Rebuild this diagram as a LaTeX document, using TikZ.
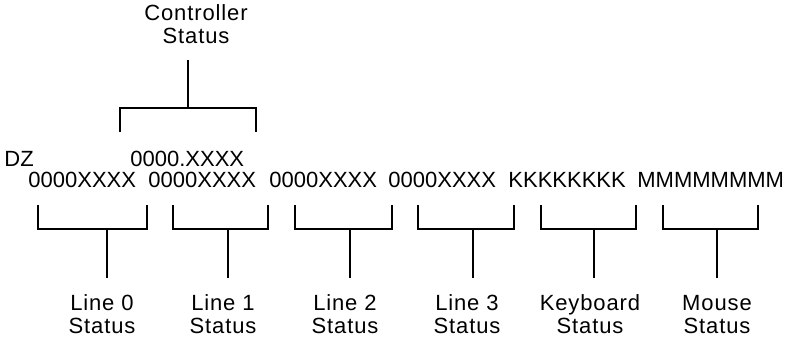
\documentclass[tikz,border=0pt]{standalone}
\usepackage{fontspec}
\setmainfont{Liberation Sans}
\newfontfamily\lblfont[LetterSpace=4]{Liberation Sans}
\usetikzlibrary{positioning}
\tikzset{
  field/.style={anchor=base west, inner sep=0pt, font=\fontsize{11}{13}\selectfont},
  lbl/.style={anchor=base, inner sep=0pt, align=center, font=\lblfont\fontsize{11}{11.25}\selectfont},
  brace/.style={line width=1pt, line cap=butt, line join=miter}
}
\begin{document}
\begin{tikzpicture}[x=0.5pt, y=-0.5pt]
  \useasboundingbox (0,0) rectangle (786,339);
  \node[lbl] (ctrl) at (196,43) {Controller\\ Status};
  \coordinate (ctrlstem) at (188,60);
  \coordinate (ctrlmid) at (188,108);
  \coordinate (ctrlL) at (120,132);
  \coordinate (ctrlR) at (256,132);
  \draw[brace] (ctrlstem) -- (ctrlmid);
  \draw[brace] (ctrlL) |- (ctrlmid) -| (ctrlR);
  \node[field] (dz) at (4,166) {DZ};
  \node[field] (csr) at (130,166) {0000.XXXX};
  \node[field] (f0) at (28,187) {0000XXXX};
  \node[field] (f1) at (148,187) {0000XXXX};
  \node[field] (f2) at (269,187) {0000XXXX};
  \node[field] (f3) at (388,187) {0000XXXX};
  \node[field] (fk) at (508,187) {KKKKKKKK};
  \node[field] (fm) at (637,187) {MMMMMMMM};
  \foreach \name/\l/\r/\c/\tx/\txt in {line0/38/147/107/102/{Line 0\\ Status}, line1/173/268/228/223/{Line 1\\ Status}, line2/295/392/350/345/{Line 2\\ Status}, line3/418/514/473/467/{Line 3\\ Status}, kbd/541/636/594/590/{Keyboard\\ Status}, mouse/663/758/717/717/{Mouse\\ Status}} {
    \coordinate (\name L) at (\l,205);
    \coordinate (\name R) at (\r,205);
    \coordinate (\name mid) at (\c,229);
    \coordinate (\name stem) at (\c,278);
    \draw[brace] (\name L) |- (\name mid) -| (\name R);
    \draw[brace] (\name mid) -- (\name stem);
    \node[lbl] (\name) at (\tx,333) {\txt};
  }
\end{tikzpicture}
\end{document}
